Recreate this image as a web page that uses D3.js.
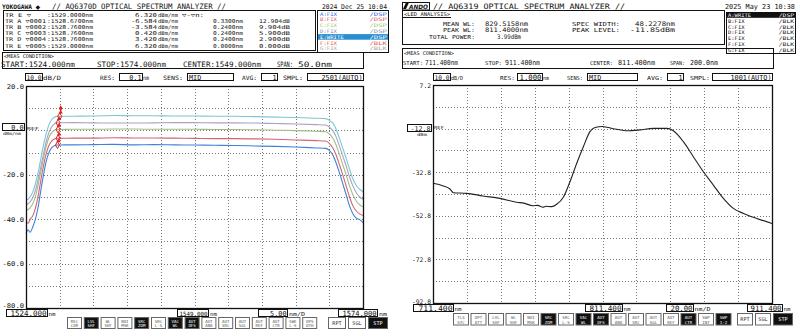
<!DOCTYPE html>
<html><head><meta charset="utf-8">
<script src="https://cdn.jsdelivr.net/npm/d3@7"></script>
<style>html,body{margin:0;padding:0;background:#fff;}svg{display:block;}</style>
</head><body>
<svg id="osa" width="800" height="336"></svg>
<script>
const MONO = "'DejaVu Sans Mono','Liberation Mono',monospace";
const SANS = "'DejaVu Sans','Liberation Sans',sans-serif";

// ---------- AQ6370D sweep: 1524-1574 nm, five stored traces ----------
const leftWl = [1524.0,1524.3,1524.6,1525.0,1525.4,1525.8,1526.2,1526.6,1527.0,1527.4,1527.8,1528.2,1528.6,1529.0,
  1531,1534,1537,1540,1543,1546,1549,1552,1555,1558,1561,1564,1567,1568.5,
  1569.0,1569.5,1570.0,1570.5,1571.0,1571.5,1572.0,1572.5,1573.0,1573.5,1574.0];
const traceE = [-31.4,-31.0,-30.0,-27.8,-24.0,-19.0,-12.8,-6.5,-1.5,2.5,4.8,5.9,6.3,6.32,
  6.4,6.5,6.7,6.6,6.6,6.5,6.5,6.4,6.4,6.2,6.0,5.8,5.5,5.3,
  4.5,3.4,0.6,-3.5,-8.0,-12.5,-17.5,-21.8,-24.8,-26.5,-27.6];
const traceD = [-33.3,-33.0,-32.2,-30.3,-27.0,-22.0,-16.5,-10.5,-5.0,-1.0,1.6,2.9,3.4,3.42,
  3.5,3.4,3.3,3.3,3.4,3.5,3.5,3.4,3.4,3.3,3.1,2.9,2.6,2.4,
  1.5,0.0,-2.8,-7.0,-11.5,-16.0,-21.0,-25.0,-28.0,-30.0,-31.0];
const traceC = [-35.9,-35.6,-34.9,-33.0,-29.8,-24.5,-18.6,-12.6,-7.2,-3.2,-1.0,0.1,0.45,0.42,
  0.5,0.5,0.6,0.6,0.5,0.5,0.5,0.4,0.4,0.3,0.1,-0.1,-0.4,-0.6,
  -1.6,-3.4,-6.5,-10.8,-15.4,-20.0,-25.0,-29.0,-31.8,-33.5,-34.4];
const traceB = [-41.1,-41.8,-40.2,-38.5,-35.0,-29.5,-22.5,-16.0,-10.5,-6.8,-4.8,-3.9,-3.55,-3.58,
  -3.5,-3.5,-3.3,-3.4,-3.4,-3.5,-3.6,-3.7,-3.7,-3.8,-4.0,-4.3,-4.6,-4.8,
  -5.8,-7.8,-11.0,-15.4,-20.0,-25.0,-30.0,-34.0,-36.3,-37.6,-38.3];
const traceA = [-46.5,-44.8,-45.9,-43.5,-40.0,-34.5,-27.0,-20.0,-14.0,-10.0,-7.9,-6.9,-6.6,-6.58,
  -6.5,-6.4,-6.3,-6.5,-6.4,-6.5,-6.6,-6.7,-6.8,-7.0,-7.2,-7.5,-7.9,-8.1,
  -9.0,-11.0,-14.6,-19.0,-24.0,-29.0,-34.0,-37.5,-39.5,-40.2,-41.5];
const leftTraceNames = ["A","B","C","D","E"];
const leftTraceColors = ["#3f82d8","#d06673","#a3bd80","#a8a2c6","#7dc6d4"];
// marker readout (trace, wavelength, level)
const markerWl = [1528.67,1528.76,1528.76,1528.76,1529.0];
const markerLevel = [-6.584,-3.584,0.420,3.420,6.320];
const leftYTicks = [20,0,-20,-40,-60,-80];
const leftYLabels = ["20.0","0.0","-20.0","-40.0","-60.0","-80.0"];
const leftLegend = ["A:FIX","B:FIX","C:FIX","D:FIX","E:WRITE","F:FIX","G:FIX"];
const leftLegendMode = ["/DSP","/DSP","/DSP","/DSP","/DSP","/BLK","/BLK"];
const leftLegendColors = ["#2a68e0","#e05a70","#9cc870","#8a8ab0","#ffffff","#e85a3a","#a0a8a8"];

// ---------- AQ6319 sweep: 711.4-911.4 nm, LED spectrum ----------
const rightWl = [711.4,717.5,721.4,723.4,731.3,740.9,750.9,760.8,765,770.4,773,776.3,778,781.4,784.4,788.3,792.2,796.2,800.1,804.0,807.0,811.4,
  813.9,819.8,825.7,833.5,841.4,849.3,853.2,859.1,865.0,870.9,876.8,882.7,888.6,894.5,902.4,911.4];
const rightLevel = [-37.9,-39.1,-40.5,-42.2,-42.5,-43.7,-44.8,-46.6,-47.0,-48.2,-48.0,-48.9,-48.4,-48.6,-47.5,-44.3,-37.2,-28.7,-21.1,-14.2,-12.3,-11.85,
  -12.2,-13.1,-13.8,-13.4,-12.7,-12.7,-13.8,-18.8,-25.7,-32.6,-38.7,-44.8,-49.4,-51.7,-54.0,-56.3];
const rightYTicks = [7.2,-12.8,-32.8,-52.8,-72.8,-92.8];
const rightYLabels = ["7.2","-12.8","-32.8","-52.8","-72.8","-92.8"];
const ledMeanWl = 829.5158, ledSpecWidth = 48.2278, ledTotalPower = 3.99;
const rightLegend = ["A:WRITE","B:FIX","C:FIX","D:FIX","E:FIX","F:FIX","G:FIX"];
const rightLegendMode = ["/DSP","/BLK","/BLK","/BLK","/BLK","/BLK","/BLK"];

const leftButtons = [["REC","COR"],["LVL","SHF"],["WL","SHF"],["NOI","MSK"],["SRC","ZOM"],["SRC","L-S"],["VAC","WL"],["AUT","OFS"],["AUT","ANA"],["AUT","SRC"],["AUT","SGL"],["AUT","REF"],["AUT","CTR"],["SWE","L-S"],["OPS","OTH"]];
const leftButtonsOn = [1,4,6,7];
const rightButtons = [["TLS","SYC"],["OPT","ATT"],["LVL","SHF"],["WL","SHF"],["NOI","MSK"],["SRC","ZOM"],["SRC","L-S"],["VAC","WL"],["AUT","OFS"],["AUT","ANA"],["AUT","SRC"],["AUT","SGL"],["AUT","REF"],["AUT","CTR"],["SWP","INT"],["SWP","1-2"]];
const rightButtonsOn = [5,7,8,13,15];

const svg = d3.select("#osa");

function txt(g, x, y, s, o = {}) {
  const t = g.append("text").attr("x", x).attr("y", y).text(s)
    .attr("font-family", o.family || MONO).attr("font-size", o.fs || 8)
    .attr("fill", o.fill || "#111").attr("font-weight", o.weight || "normal")
    .attr("text-anchor", o.anchor || "start");
  if (o.italic) t.attr("font-style", "italic");
  const w = o.w || (o.cw ? s.length * o.cw : null);
  if (w) t.attr("textLength", w).attr("lengthAdjust", "spacingAndGlyphs");
  return t;
}
function box(g, x, y, w, h, o = {}) {
  return g.append("rect").attr("x", x + 0.5).attr("y", y + 0.5).attr("width", w).attr("height", h)
    .attr("fill", o.fill || "none").attr("stroke", o.stroke || "#111").attr("stroke-width", o.sw || 1);
}
function boxedValue(g, x, y, w, h, s, o = {}) {
  box(g, x, y, w, h, { fill: "#fff" });
  const a = o.anchor || "end";
  const tx = a === "end" ? x + w - 0.5 : x + 2;
  const tw = o.w || s.length * (o.cw || 4.1);
  const fs = Math.min(o.fs || 7.5, tw / (s.length * 0.6));
  txt(g, tx, y + h, s, { fs: fs, anchor: a, w: tw });
}
function buttons(g, x0, pitch, bw, y, h, labels, on) {
  labels.forEach((lb, i) => {
    const x = x0 + i * pitch, dark = on.includes(i);
    box(g, x, y, bw, h, { fill: dark ? "#111" : "#fff", stroke: "#666" });
    txt(g, x + bw / 2 + 0.5, y + h / 2 + 0.3, lb[0], { fs: 4.1, anchor: "middle", fill: dark ? "#fff" : "#555" });
    txt(g, x + bw / 2 + 0.5, y + h - 0.8, lb[1], { fs: 4.1, anchor: "middle", fill: dark ? "#fff" : "#555" });
  });
}
function grid(g, x, y, xDivs, yDivs) {
  const [x0, x1] = x.range(), [y1, y0] = y.range();
  const gg = g.append("g").attr("stroke", "#777").attr("stroke-width", 1).attr("stroke-dasharray", "1,2");
  xDivs.forEach(v => gg.append("line").attr("x1", Math.round(x(v)) + 0.5).attr("x2", Math.round(x(v)) + 0.5).attr("y1", y0).attr("y2", y1));
  yDivs.forEach(v => gg.append("line").attr("y1", Math.round(y(v)) + 0.5).attr("y2", Math.round(y(v)) + 0.5).attr("x1", x0).attr("x2", x1));
}

// ================= LEFT SCREEN =================
const L = svg.append("g");
txt(L, 2, 9, "YOKOGAWA", { weight: "bold", fs: 6.2, w: 30 });
txt(L, 35.5, 9, "\u25C6", { family: SANS, fs: 6 });
txt(L, 52, 9, "// AQ6370D OPTICAL SPECTRUM ANALYZER //", { fs: 7.5, w: 174 });
txt(L, 322, 9, "2024 Dec 25 10:04", { fs: 6.5, w: 65 });

// marker table
box(L, 3, 10, 312, 40);
const refIdx = 4;
const TF = 5.3;
const rowY = i => 16.5 + i * 6.2;
txt(L, 5, rowY(0), "TR E \u25BD", { fs: TF, w: 26 });
txt(L, 47, rowY(0), ":" + markerWl[refIdx].toFixed(4) + "nm", { fs: TF, w: 46 });
txt(L, 157, rowY(0), markerLevel[refIdx].toFixed(3), { fs: TF, anchor: "end", w: 22 });
txt(L, 158, rowY(0), "dBm/nm", { fs: TF, w: 20 });
txt(L, 182, rowY(0), "\u25BD-\u25BDn:", { fs: TF, w: 22 });
leftTraceNames.forEach((n, i) => {
  const y = rowY(i + 1);
  txt(L, 5, y, "TR " + n + " \u25BD000" + (i + 1), { fs: TF, w: 41 });
  txt(L, 47, y, ":" + markerWl[i].toFixed(4) + "nm", { fs: TF, w: 46 });
  txt(L, 157, y, markerLevel[i].toFixed(3), { fs: TF, anchor: "end", w: markerLevel[i] < 0 ? 26 : 22 });
  txt(L, 158, y, "dBm/nm", { fs: TF, w: 20 });
  txt(L, 243, y, (markerWl[refIdx] - markerWl[i]).toFixed(4) + "nm", { fs: TF, anchor: "end", w: 30 });
  txt(L, 290, y, (markerLevel[refIdx] - markerLevel[i]).toFixed(3) + "dB", { fs: TF, anchor: "end", w: 31 });
});

// trace legend
box(L, 317, 10, 71, 42);
leftLegend.forEach((s, i) => {
  const y = 15.5 + i * 5.8;
  if (i === 4) L.append("rect").attr("x", 318).attr("y", y - 4.6).attr("width", 70).attr("height", 5.6).attr("fill", "#2a8fd0");
  txt(L, 320, y, s, { fs: 4.9, fill: leftLegendColors[i], cw: 3.4 });
  txt(L, 387, y, leftLegendMode[i], { fs: 4.9, anchor: "end", fill: leftLegendColors[i], cw: 4.4 });
});

// measurement condition
box(L, 2, 52, 361, 16);
txt(L, 4, 57.5, "<MEAS CONDITION>", { fs: 5, w: 50 });
txt(L, 1, 66.5, "START:1524.000nm", { fs: 7.5, w: 74 });
txt(L, 97, 66.5, "STOP:1574.000nm", { fs: 7.5, w: 69 });
txt(L, 183, 66.5, "CENTER:1549.000nm", { fs: 7.5, w: 78 });
txt(L, 277, 66.5, "SPAN:", { fs: 7.5, w: 16 });
txt(L, 298, 66.5, "50.0nm", { fs: 7.5, w: 34 });

// setting row
boxedValue(L, 25, 73, 17, 7, "10.0", { w: 15 });
txt(L, 43, 80, "dB/D", { fs: 6, w: 18 });
txt(L, 100, 80, "RES:", { fs: 6, w: 15 });
boxedValue(L, 119, 73, 23, 7, "0.1");
txt(L, 143, 80, "nm", { fs: 6, w: 6 });
txt(L, 163, 80, "SENS:", { fs: 6, w: 20 });
boxedValue(L, 187, 73, 46, 7, "MID", { anchor: "start" });
txt(L, 242, 80, "AVG:", { fs: 6, w: 15 });
boxedValue(L, 261, 73, 16, 7, "1");
txt(L, 283, 80, "SMPL:", { fs: 6, w: 20 });
boxedValue(L, 307, 73, 56, 7, "2501(AUTO)");

// plot
const xL = d3.scaleLinear().domain([1524, 1574]).range([26, 363]);
const yL = d3.scaleLinear().domain([-80, 20]).range([308, 86]);
grid(L, xL, yL, d3.range(1529, 1570, 5), d3.range(-70, 20, 10));
const lineL = d3.line().x((d, i) => xL(leftWl[i])).y(d => yL(d)).curve(d3.curveMonotoneX);
[traceA, traceB, traceC, traceD, traceE].forEach((tr, k) => {
  L.append("path").attr("d", lineL(tr)).attr("fill", "none").attr("stroke", leftTraceColors[k]).attr("stroke-width", 1.1);
});
// markers
markerWl.forEach((w, i) => {
  const cx = xL(w), cy = yL(markerLevel[i]);
  L.append("path").attr("transform", `translate(${cx},${cy})`).attr("d", d3.symbol(d3.symbolDiamond, 14)())
    .attr("fill", "none").attr("stroke", "#e02020").attr("stroke-width", 1);
  L.append("path").attr("transform", `translate(${cx + 1},${cy - 4})`).attr("d", d3.symbol(d3.symbolTriangle, 8)()).attr("fill", "#e02020");
});
L.append("path").attr("transform", `translate(${xL(markerWl[refIdx]) + 1},${yL(markerLevel[refIdx]) - 8})`)
  .attr("d", d3.symbol(d3.symbolDiamond, 12)()).attr("fill", "#e02020");
box(L, 26, 86, 337, 222, { sw: 1.3 });
// y labels
leftYTicks.forEach((v, i) => {
  if (v === 0) return;
  txt(L, 24, yL(v) + (i === 5 ? 0 : 2.5), leftYLabels[i], { fs: 6.5, anchor: "end", cw: 4.3 });
});
boxedValue(L, 2, 123, 22, 7, leftYLabels[1]);
txt(L, 3, 135, "dBm/nm", { fs: 4.2, w: 18 });
txt(L, 27, yL(0), "REF", { fs: 4.2, w: 12 });
// x labels
boxedValue(L, 6, 309, 41, 7, "1524.000", { w: 36 });
txt(L, 48.5, 316, "nm", { fs: 5.5, w: 7 });
boxedValue(L, 177, 309, 31, 7, "1549.000", { w: 28 });
txt(L, 210, 316, "nm", { fs: 5.5, w: 7 });
boxedValue(L, 258, 309, 29, 7, "5.00");
txt(L, 289, 316, "nm/D", { fs: 5.5, w: 16 });
boxedValue(L, 338, 309, 39, 7, "1574.000", { w: 34 });
txt(L, 379, 316, "nm", { fs: 5.5, w: 8 });
buttons(L, 67, 16.8, 14, 317, 11, leftButtons, leftButtonsOn);
[["RPT", 328, 17, false], ["SGL", 348, 17, false], ["STP", 368, 19, true]].forEach(([s, x, w, on]) => {
  box(L, x, 317, w, 11, { fill: on ? "#111" : "#fff", stroke: "#666" });
  txt(L, x + w / 2 + 0.5, 325, s, { fs: 5.2, anchor: "middle", fill: on ? "#fff" : "#333" });
});

// ================= RIGHT SCREEN =================
const R = svg.append("g");
R.append("path").attr("d", "M403,9 L406,2.5 L409,2.5 L406,9Z").attr("fill", "#111");
box(R, 402, 2, 27, 7.5);
txt(R, 409, 9, "ANDO", { family: SANS, weight: "bold", italic: true, fs: 6, w: 19 });
txt(R, 433, 9, "// AQ6319 OPTICAL SPECTRUM ANALYZER //", { fs: 7.5, w: 192 });
txt(R, 725, 9, "2025 May 23 10:38", { fs: 6.8, w: 70 });

// LED analysis panel
const peakIdx = d3.maxIndex(rightLevel);
box(R, 402, 10, 322, 34);
txt(R, 404, 15.5, "<LED ANALYSIS>", { fs: 5, w: 46 });
R.append("line").attr("x1", 403).attr("x2", 451).attr("y1", 17.5).attr("y2", 17.5).attr("stroke", "#111");
const LF = 6.3;
txt(R, 475, 25.5, "MEAN WL:", { fs: 5.5, anchor: "end", w: 32 });
txt(R, 485, 25.5, ledMeanWl.toFixed(4) + "nm", { fs: LF, w: 43 });
txt(R, 475, 32, "PEAK WL:", { fs: 5.5, anchor: "end", w: 32 });
txt(R, 485, 32, rightWl[peakIdx].toFixed(4) + "nm", { fs: LF, w: 43 });
txt(R, 475, 38.5, "TOTAL POWER:", { fs: 5.5, anchor: "end", w: 46 });
txt(R, 497, 38.5, ledTotalPower.toFixed(2) + "dBm", { fs: LF, w: 24 });
txt(R, 572, 25.5, "SPEC WIDTH:", { fs: 5.5, w: 48 });
txt(R, 635, 25.5, ledSpecWidth.toFixed(4) + "nm", { fs: LF, w: 40 });
txt(R, 572, 32, "PEAK LEVEL:", { fs: 5.5, w: 48 });
txt(R, 630, 32, rightLevel[peakIdx].toFixed(2) + "dBm", { fs: LF, w: 45 });

// legend
box(R, 726, 12, 69, 41);
rightLegend.forEach((s, i) => {
  const y = 17 + i * 5.8;
  if (i === 0) R.append("rect").attr("x", 727).attr("y", y - 4.8).attr("width", 68).attr("height", 5.6).attr("fill", "#111");
  const c = i === 0 ? "#fff" : "#111";
  txt(R, 728, y, s, { fs: 4.9, fill: c, cw: 3.3 });
  txt(R, 794, y, rightLegendMode[i], { fs: 4.9, anchor: "end", fill: c, cw: 3.8 });
});

// measurement condition
box(R, 402, 48, 371, 20);
txt(R, 404, 54.5, "<MEAS CONDITION>", { fs: 5, w: 50 });
txt(R, 403, 65, "START:", { fs: 5.5, w: 20 });
txt(R, 425, 65, "711.400nm", { fs: 7, w: 33 });
txt(R, 485, 65, "STOP:", { fs: 5.5, w: 17 });
txt(R, 505, 65, "911.400nm", { fs: 7, w: 35 });
txt(R, 590, 65, "CENTER:", { fs: 5.5, w: 23 });
txt(R, 618, 65, "811.400nm", { fs: 7, w: 37 });
txt(R, 670, 65, "SPAN:", { fs: 5.5, w: 15 });
txt(R, 690, 65, "200.0nm", { fs: 7, w: 28 });

// setting row
boxedValue(R, 433, 73, 17, 7, "10.0", { w: 15 });
txt(R, 451, 80, "dB/D", { fs: 5.5, w: 12 });
txt(R, 500, 80, "RES:", { fs: 5.5, w: 15 });
boxedValue(R, 517, 73, 25, 7, "1.000", { w: 22 });
txt(R, 543, 80, "nm", { fs: 5.5, w: 6 });
txt(R, 567, 80, "SENS:", { fs: 5.5, w: 16 });
boxedValue(R, 587, 73, 50, 7, "MID", { anchor: "start" });
txt(R, 647, 80, "AVG:", { fs: 5.5, w: 16 });
boxedValue(R, 667, 73, 16, 7, "1");
txt(R, 690, 80, "SMPL:", { fs: 5.5, w: 20 });
boxedValue(R, 712, 73, 60, 7, "1001(AUTO)");

// plot
const xR = d3.scaleLinear().domain([711.4, 911.4]).range([433, 772]);
const yR = d3.scaleLinear().domain([-92.8, 7.2]).range([303, 85]);
grid(R, xR, yR, d3.range(731.4, 900, 20), d3.range(-82.8, 0, 10));
const lineR = d3.line().x((d, i) => xR(rightWl[i])).y(d => yR(d)).curve(d3.curveMonotoneX);
R.append("path").attr("d", lineR(rightLevel)).attr("fill", "none").attr("stroke", "#222").attr("stroke-width", 1.1);
box(R, 433, 85, 339, 218, { sw: 1.3 });
rightYTicks.forEach((v, i) => {
  if (i === 1) return;
  txt(R, 431, yR(v) + (i === 5 ? 0.5 : 2.5), rightYLabels[i], { fs: 6.3, anchor: "end", cw: 3.8 });
});
boxedValue(R, 407, 124, 24, 7, rightYLabels[1], { w: 20 });
txt(R, 417, 136, "dBm", { fs: 4.2, w: 10 });
txt(R, 434, yR(-12.8), "REF", { fs: 4.2, w: 10 });
boxedValue(R, 413, 304, 40, 7, "711.400", { w: 34 });
txt(R, 454.5, 311, "nm", { fs: 5.5, w: 7 });
boxedValue(R, 585, 304, 37, 7, "811.400", { w: 32 });
txt(R, 623.5, 311, "nm", { fs: 5.5, w: 7 });
boxedValue(R, 666, 304, 27, 7, "20.00", { w: 22 });
txt(R, 694.5, 311, "nm/D", { fs: 5.5, w: 16 });
boxedValue(R, 747, 304, 35, 7, "911.400", { w: 31 });
txt(R, 783.5, 311, "nm", { fs: 5.5, w: 7 });
buttons(R, 453, 17.5, 15, 313, 11.5, rightButtons, rightButtonsOn);
[["RPT", 737, 15, false], ["SGL", 755, 15, false], ["STP", 773, 19, true]].forEach(([s, x, w, on]) => {
  box(R, x, 313, w, 11.5, { fill: on ? "#111" : "#fff", stroke: "#666" });
  txt(R, x + w / 2 + 0.5, 321, s, { fs: 5.2, anchor: "middle", fill: on ? "#fff" : "#333" });
});
</script>
</body></html>
